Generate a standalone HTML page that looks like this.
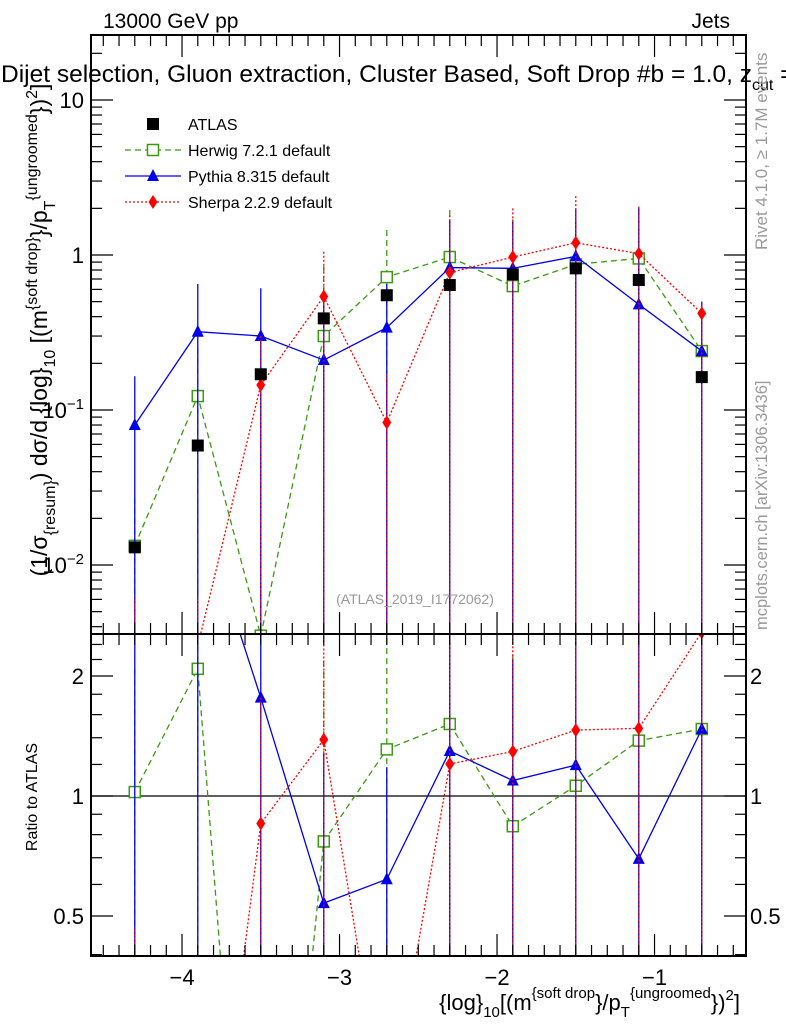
<!DOCTYPE html>
<html><head><meta charset="utf-8"><style>
html,body{margin:0;background:#fff;width:786px;height:1024px;overflow:hidden}
#wrap{position:relative;width:786px;height:1024px;overflow:hidden}
svg{display:block;font-family:"Liberation Sans",sans-serif;position:absolute;left:0;top:0}
</style></head><body>
<div id="wrap">
<svg id="c" width="786" height="1024" viewBox="0 0 786 1024"></svg>
<svg width="786" height="1024" font-family="Liberation Sans, sans-serif">
<text x="103" y="28" font-size="21">13000 GeV pp</text>
<text x="730" y="28" font-size="21" text-anchor="end">Jets</text>
<text x="1" y="82" font-size="24.5">Dijet selection, Gluon extraction, Cluster Based, Soft Drop #b = 1.0, z<tspan dy="8" font-size="16">cut</tspan><tspan dy="-8"> =</tspan></text>
<g font-size="16">
<rect x="147" y="118" width="12" height="12" fill="#000"/><text x="188" y="130">ATLAS</text>
<line x1="125" x2="181" y1="150" y2="150" stroke="#3a9a10" stroke-width="1.3" stroke-dasharray="6,4"/><rect x="147.5" y="144.5" width="11" height="11" fill="#fff" stroke="#3a9a10" stroke-width="1.5"/><text x="188" y="156">Herwig 7.2.1 default</text>
<line x1="125" x2="181" y1="176" y2="176" stroke="#0000ee" stroke-width="1.3"/><polygon points="153,169 147,181 159,181" fill="#0000ee"/><text x="188" y="182">Pythia 8.315 default</text>
<line x1="125" x2="181" y1="202" y2="202" stroke="#f00" stroke-width="1.3" stroke-dasharray="2,2"/><polygon points="153,195 148.5,202 153,209 157.5,202" fill="#f00"/><text x="188" y="208">Sherpa 2.2.9 default</text>
</g>
<text x="415" y="604" font-size="14" fill="#999" text-anchor="middle">(ATLAS_2019_I1772062)</text>
<text transform="translate(47,330) rotate(-90)" font-size="23" text-anchor="middle">(1/σ<tspan dy="8" font-size="16">{resum}</tspan><tspan dy="-8">) dσ/d {log}</tspan><tspan dy="8" font-size="16">10</tspan><tspan dy="-8"> [(m</tspan><tspan dy="-10" font-size="16">{soft drop}</tspan><tspan dy="10">}/p</tspan><tspan dy="8" font-size="16">T</tspan><tspan dy="-18" font-size="16">{ungroomed</tspan><tspan dy="10">})</tspan><tspan dy="-10" font-size="16">2</tspan><tspan dy="10">]</tspan></text>
<text transform="translate(37,797) rotate(-90)" font-size="16" text-anchor="middle">Ratio to ATLAS</text>
<text x="740" y="1010" font-size="22" text-anchor="end">{log}<tspan dy="7" font-size="15">10</tspan><tspan dy="-7">[(m</tspan><tspan dy="-12" font-size="15">{soft drop</tspan><tspan dy="12">}/p</tspan><tspan dy="7" font-size="15">T</tspan><tspan dy="-19" font-size="15">{ungroomed</tspan><tspan dy="12">})</tspan><tspan dy="-10" font-size="15">2</tspan><tspan dy="10">]</tspan></text>
<text transform="translate(767,250) rotate(-90)" font-size="17" fill="#999">Rivet 4.1.0, ≥ 1.7M events</text>
<text transform="translate(767,630) rotate(-90)" font-size="16.5" fill="#999">mcplots.cern.ch [arXiv:1306.3436]</text>
</svg>
</div>
<script>
const xs=[-4.3,-3.9,-3.5,-3.1,-2.7,-2.3,-1.9,-1.5,-1.1,-0.7];
const atlas=[0.013,0.059,0.17,0.39,0.55,0.64,0.75,0.82,0.69,0.163];
const herwig=[0.0133,0.123,0.0035,0.30,0.72,0.97,0.63,0.87,0.95,0.24];
const herwigHi=[0.027,0.25,0.15,0.85,1.45,1.95,1.7,1.65,2.0,0.45];
const pythia=[0.08,0.32,0.30,0.21,0.34,0.83,0.82,0.98,0.48,0.24];
const pythiaHi=[0.165,0.65,0.61,0.5,0.65,1.7,1.65,2.0,2.0,0.5];
const sherpa=[0.003,0.003,0.145,0.54,0.083,0.77,0.97,1.2,1.02,0.42];
const sherpaHi=[0.006,0.006,0.3,1.05,0.17,1.8,2.0,2.4,2.05,0.48];
const xTicks=[-4,-3,-2,-1];
const yTicks=[-2,-1,0,1];
const rTicks=[0.5,1,2];

const L=91,R=746,T=35,MB=634,RB=956;
const X=v=>L+(v+4.578)*157.5;
const Y=v=>255-Math.log10(v)*155;
const RY=v=>796-Math.log2(v)*120;
const svg=document.getElementById('c');
const NS='http://www.w3.org/2000/svg';
function mk(tag,at,parent){const e=document.createElementNS(NS,tag);for(const k in at)e.setAttribute(k,at[k]);(parent||svg).appendChild(e);return e;}
function txt(s,x,y,size,fill,anchor,parent){const t=mk('text',{x:x,y:y,'font-size':size,fill:fill||'#000','text-anchor':anchor||'start'},parent);t.innerHTML=s;return t;}
mk('defs',{}).innerHTML='<clipPath id="cm"><rect x="91" y="35" width="655" height="599"/></clipPath><clipPath id="cr"><rect x="91" y="634" width="655" height="322"/></clipPath>';
const gm=mk('g',{'clip-path':'url(#cm)'});


const gr=mk('g',{'clip-path':'url(#cr)'});


mk('line',{x1:L,x2:R,y1:RY(1),y2:RY(1),stroke:'#000','stroke-width':1.2},gr);

const series=[
 {n:'herwig',v:herwig,hi:herwigHi,c:'#3a9a10',dash:'6,4',m:'sq'},
 {n:'pythia',v:pythia,hi:pythiaHi,c:'#0000ee',dash:'',m:'tri'},
 {n:'sherpa',v:sherpa,hi:sherpaHi,c:'#ff0000',dash:'2,2',m:'dia'}];
function marker(m,x,y,c,g,name){let e;
 if(m==='sq')e=mk('rect',{x:x-5.5,y:y-5.5,width:11,height:11,fill:'#fff',stroke:c,'stroke-width':1.5},g);
 else if(m==='tri')e=mk('polygon',{points:`${x},${y-7} ${x-6},${y+5} ${x+6},${y+5}`,fill:c},g);
 else if(m==='dia')e=mk('polygon',{points:`${x},${y-7} ${x-4.5},${y} ${x},${y+7} ${x+4.5},${y}`,fill:c},g);
 else e=mk('rect',{x:x-6,y:y-6,width:12,height:12,fill:'#000'},g);
 
 }
series.forEach(s=>{
 const pts=xs.map((x,i)=>X(x)+','+Y(s.v[i])).join(' ');
 const pl=mk('polyline',{points:pts,fill:'none',stroke:s.c,'stroke-width':1.3,'stroke-dasharray':s.dash},gm);
 
 
 const rp=xs.map((x,i)=>X(x)+','+RY(s.v[i]/atlas[i])).join(' ');
 const rl=mk('polyline',{points:rp,fill:'none',stroke:s.c,'stroke-width':1.3,'stroke-dasharray':s.dash},gr);
 
 
 xs.forEach((x,i)=>{
  mk('line',{x1:X(x),x2:X(x),y1:Y(s.hi[i]),y2:700,stroke:s.c,'stroke-width':1.3,'stroke-dasharray':s.dash},gm);
  mk('line',{x1:X(x),x2:X(x),y1:RY(s.hi[i]/atlas[i]),y2:1000,stroke:s.c,'stroke-width':1.3,'stroke-dasharray':s.dash},gr);
  marker(s.m,X(x),Y(s.v[i]),s.c,gm,s.n+'-point');
  marker(s.m,X(x),RY(s.v[i]/atlas[i]),s.c,gr,s.n+'-ratio-point');
 });
});
xs.forEach((x,i)=>marker('atl',X(x),Y(atlas[i]),'#000',gm,'atlas-point'));

const f1=mk('rect',{x:L,y:T,width:R-L,height:MB-T,fill:'none',stroke:'#000','stroke-width':2});


const f2=mk('rect',{x:L,y:MB,width:R-L,height:RB-MB,fill:'none',stroke:'#000','stroke-width':2});


for(let v=-4.5;v<=-0.45;v+=0.1){const x=X(v);const major=Math.abs(v-Math.round(v))<0.01;const len=major?22:11;
 [[T,1],[MB,-1],[MB,1],[RB,-1]].forEach(([y,d])=>mk('line',{x1:x,x2:x,y1:y,y2:y+d*len,stroke:'#000','stroke-width':1.2}));}
xTicks.forEach(v=>{const t=txt('−'+Math.abs(v),X(v),985,22,'#000','middle');
 
 });
for(let d=-3;d<=1;d++)for(let k=1;k<10;k++){const v=k*Math.pow(10,d);const y=Y(v);if(y<T||y>MB)continue;const len=k===1?22:11;
 mk('line',{x1:L,x2:L+len,y1:y,y2:y,stroke:'#000','stroke-width':1.2});mk('line',{x1:R,x2:R-len,y1:y,y2:y,stroke:'#000','stroke-width':1.2});}
yTicks.forEach(d=>{const y=Y(Math.pow(10,d));let t;
 if(d===0)t=txt('1',84,y+8,22,'#000','end');else if(d===1)t=txt('10',84,y+8,22,'#000','end');
 else t=txt('10<tspan dy="-9" font-size="15">−'+Math.abs(d)+'</tspan>',84,y+8,22,'#000','end');
 
 });
[0.4,0.5,0.6,0.7,0.8,0.9,1,1.2,1.4,1.6,1.8,2,2.2,2.4].forEach(v=>{const y=RY(v);const len=(v===0.5||v===1||v===2)?22:11;
 mk('line',{x1:L,x2:L+len,y1:y,y2:y,stroke:'#000','stroke-width':1.2});mk('line',{x1:R,x2:R-len,y1:y,y2:y,stroke:'#000','stroke-width':1.2});});
rTicks.forEach(v=>{const s=String(v);const a=txt(s,84,RY(v)+8,22,'#000','end');
 
 
 const b=txt(s,750,RY(v)+8,22,'#000','start');
 
 });
</script>
</body></html>
